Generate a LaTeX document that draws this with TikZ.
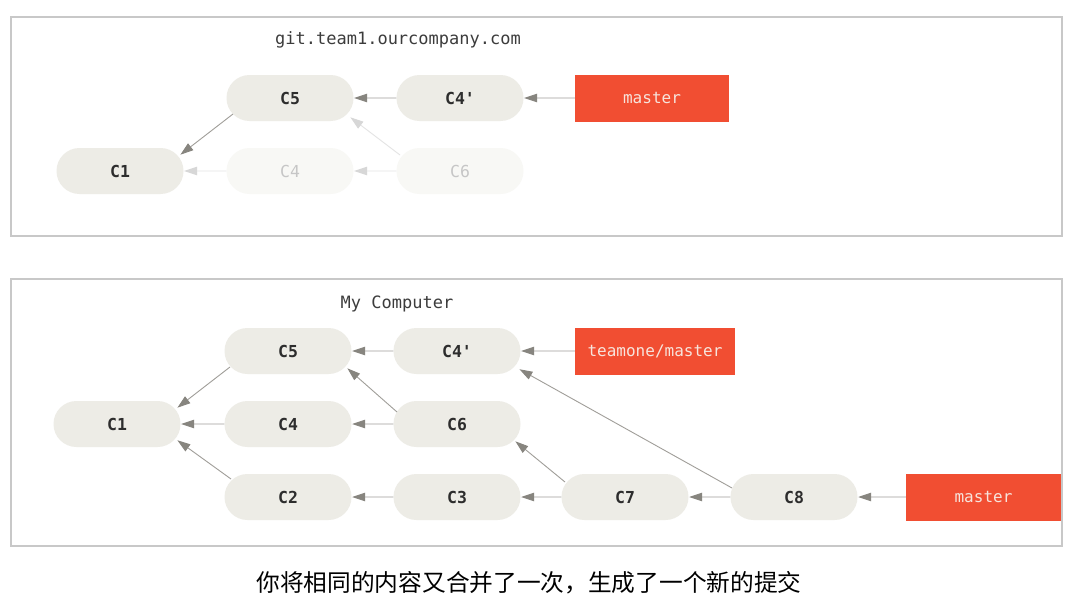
\documentclass[tikz,border=0pt]{standalone}
\usepackage{fontspec}
\setmonofont{DejaVu Sans Mono}
\newfontfamily\cjk{Noto Sans CJK SC}
\usetikzlibrary{shapes.misc,arrows.meta}
\definecolor{nodefill}{RGB}{237,236,230}
\definecolor{fadefill}{RGB}{248,248,245}
\definecolor{fadetext}{RGB}{198,198,198}
\definecolor{fadearrow}{RGB}{215,215,215}
\definecolor{fadeline}{RGB}{228,228,228}
\definecolor{arrowgray}{RGB}{135,133,127}
\definecolor{linegray}{RGB}{160,158,153}
\definecolor{branchred}{RGB}{241,78,50}
\definecolor{branchtext}{RGB}{247,228,220}
\definecolor{framegray}{RGB}{200,200,200}
\definecolor{committext}{RGB}{45,45,45}
\definecolor{titletext}{RGB}{60,60,60}
\begin{document}
\begin{tikzpicture}[x=1pt,y=-1pt,
  commit/.style={rounded rectangle, fill=nodefill, minimum width=127pt, minimum height=46pt, inner sep=0pt,
    text=committext, font=\fontsize{16.5pt}{19pt}\selectfont\ttfamily\bfseries},
  fadecommit/.style={commit, fill=fadefill, text=fadetext, font=\fontsize{16.5pt}{19pt}\selectfont\ttfamily},
  branch/.style={rectangle, fill=branchred, minimum height=47pt, inner sep=0pt,
    text=branchtext, font=\fontsize{16pt}{19pt}\selectfont\ttfamily},
  title/.style={text=titletext, font=\fontsize{17pt}{20pt}\selectfont\ttfamily},
  frame/.style={draw=framegray, line width=1.2pt},
  arr/.style={draw=linegray, line width=0.9pt, -{Triangle[length=13pt,width=8.5pt,color=arrowgray]}, shorten >=0.5pt},
  fadearr/.style={draw=fadeline, line width=0.9pt, -{Triangle[length=13pt,width=8.5pt,color=fadearrow]}, shorten >=0.5pt}
]
\useasboundingbox (0,0) rectangle (1081,610);
\fill[white] (0,0) rectangle (1081,610);

% ---------- top panel ----------
\draw[frame] (11,17) rectangle (1062,236);
\node[title] (t1) at (398,40) {git.team1.ourcompany.com};
\node[commit] (aC5) at (290,98) {C5};
\node[commit] (aC4p) at (460,98) {C4'};
\node[branch, minimum width=154pt] (amaster) at (652,98) {master};
\node[commit] (aC1) at (120,171) {C1};
\node[fadecommit] (aC4) at (290,171) {C4};
\node[fadecommit] (aC6) at (460,171) {C6};

\draw[arr] (aC4p) -- (aC5);
\draw[arr] (amaster) -- (aC4p);
\draw[arr] ([shift={(-57,16)}]aC5.center) -- ([shift={(60,-16)}]aC1.center);
\draw[fadearr] (aC4) -- (aC1);
\draw[fadearr] (aC6) -- (aC4);
\draw[fadearr] ([shift={(-60,-16)}]aC6.center) -- ([shift={(60,19)}]aC5.center);

% ---------- bottom panel ----------
\draw[frame] (11,279) rectangle (1062,546);
\node[title] (t2) at (397,304) {My Computer};
\node[commit] (bC5) at (288,351) {C5};
\node[commit] (bC4p) at (457,351) {C4'};
\node[branch, minimum width=160pt] (btm) at (655,351) {teamone/master};
\node[commit] (bC1) at (117,424) {C1};
\node[commit] (bC4) at (288,424) {C4};
\node[commit] (bC6) at (457,424) {C6};
\node[commit] (bC2) at (288,497) {C2};
\node[commit] (bC3) at (457,497) {C3};
\node[commit] (bC7) at (625,497) {C7};
\node[commit] (bC8) at (794,497) {C8};
\node[branch, minimum width=155pt] (bmaster) at (983.5,497) {master};

\draw[arr] (bC4p) -- (bC5);
\draw[arr] (btm) -- (bC4p);
\draw[arr] ([shift={(-58,16)}]bC5.center) -- ([shift={(60,-16)}]bC1.center);
\draw[arr] (bC4) -- (bC1);
\draw[arr] ([shift={(-57,-18)}]bC2.center) -- ([shift={(60,16)}]bC1.center);
\draw[arr] (bC6) -- (bC4);
\draw[arr] ([shift={(-60,-12)}]bC6.center) -- ([shift={(59,17)}]bC5.center);
\draw[arr] (bC3) -- (bC2);
\draw[arr] (bC7) -- (bC3);
\draw[arr] ([shift={(-60,-15)}]bC7.center) -- ([shift={(58,17)}]bC6.center);
\draw[arr] (bC8) -- (bC7);
\draw[arr] ([shift={(-62,-9)}]bC8.center) -- ([shift={(62,18)}]bC4p.center);
\draw[arr] (bmaster) -- (bC8);

% ---------- caption ----------
\node[text=black, font=\fontsize{23.7pt}{28pt}\selectfont\cjk] (cap) at (529,583) {你将相同的内容又合并了一次，生成了一个新的提交};
\end{tikzpicture}
\end{document}
